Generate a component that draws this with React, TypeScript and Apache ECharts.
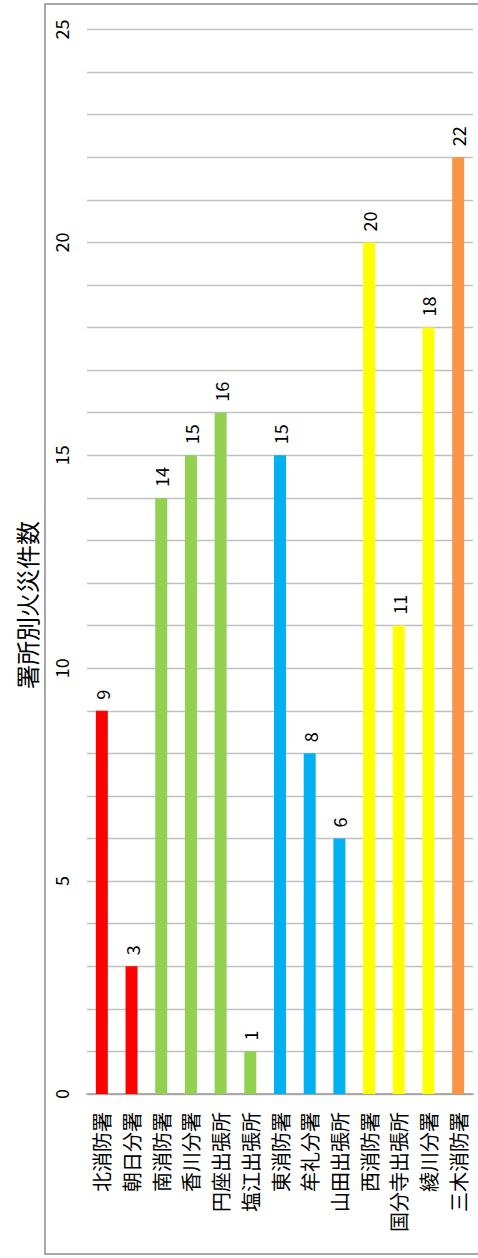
import React, { useEffect, useRef } from "react";
import * as echarts from "echarts";

const categories = [
  "北消防署",
  "朝日分署",
  "南消防署",
  "香川分署",
  "円座出張所",
  "塩江出張所",
  "東消防署",
  "牟礼分署",
  "山田出張所",
  "西消防署",
  "国分寺出張所",
  "綾川分署",
  "三木消防署",
];
const values = [9, 3, 14, 15, 16, 1, 15, 8, 6, 20, 11, 18, 22];
const barColors = [
  "#FF0000",
  "#FF0000",
  "#92D050",
  "#92D050",
  "#92D050",
  "#92D050",
  "#00B0F0",
  "#00B0F0",
  "#00B0F0",
  "#FFFF00",
  "#FFFF00",
  "#FFFF00",
  "#F79646",
];
const titleText = "署所別火災件数";

const FONT = "'Noto Sans CJK JP', 'Noto Sans', sans-serif";

export default function App() {
  const ref = useRef<HTMLDivElement>(null);
  useEffect(() => {
    document.body.style.margin = "0";
    if (!ref.current) return;
    const chart = echarts.init(ref.current, undefined, { renderer: "svg" });
    chart.setOption({
      animation: false,
      textStyle: { fontFamily: FONT },
      graphic: [
        {
          type: "rect",
          shape: { x: 45, y: 4, width: 460, height: 1250 },
          style: { fill: "none", stroke: "#8c8c8c", lineWidth: 1.5 },
          silent: true,
        },
        {
          type: "text",
          x: 26,
          y: 605,
          rotation: Math.PI / 2,
          style: {
            text: titleText,
            fontSize: 24,
            fontFamily: FONT,
            fill: "#000",
            textAlign: "center",
            textVerticalAlign: "middle",
          },
        },
      ],
      grid: { left: 87, right: 5, top: 29.5, bottom: 164, containLabel: false },
      xAxis: {
        type: "category",
        data: categories,
        axisLine: { show: true, lineStyle: { color: "#999", width: 1.5 } },
        axisTick: { show: false },
        axisLabel: {
          interval: 0,
          rotate: 90,
          fontSize: 20,
          margin: 18,
          color: "#000",
          fontFamily: FONT,
        },
      },
      yAxis: {
        type: "value",
        min: 0,
        max: 25,
        interval: 5,
        axisLine: { show: false },
        axisTick: { show: false },
        axisLabel: {
          rotate: 90,
          fontSize: 18,
          margin: 17,
          color: "#000",
          fontFamily: FONT,
        },
        splitLine: { show: true, lineStyle: { color: "#c0c0c0", width: 1.3 } },
        minorTick: { show: false, splitNumber: 5 },
        minorSplitLine: { show: true, lineStyle: { color: "#c0c0c0", width: 1.3 } },
      },
      series: [
        {
          type: "bar",
          barWidth: 12,
          data: values.map((v, i) => ({ value: v, itemStyle: { color: barColors[i] } })),
          label: {
            show: true,
            position: "top",
            rotate: 90,
            align: "left",
            verticalAlign: "middle",
            distance: 11,
            fontSize: 18,
            color: "#000",
            fontFamily: FONT,
          },
        },
      ],
    });
    return () => chart.dispose();
  }, []);
  return <div ref={ref} style={{ width: 478, height: 1258 }} />;
}
